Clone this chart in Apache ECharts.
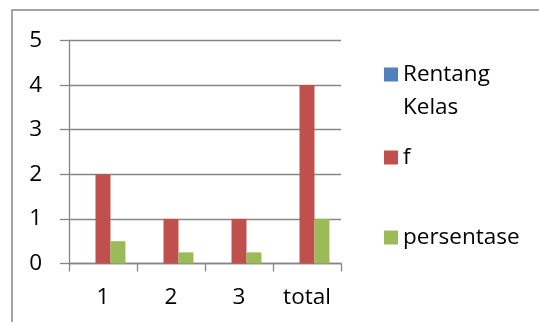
<!DOCTYPE html>
<html>
<head>
<meta charset="utf-8">
<script src="https://cdn.jsdelivr.net/npm/echarts@6/dist/echarts.min.js"></script>
<style>
  html, body { margin: 0; padding: 0; background: #fff; }
  #chart { width: 539px; height: 322px; }
</style>
</head>
<body>
<div id="chart"></div>
<script>
// Category labels along the x axis
const categories = ['1', '2', '3', 'total'];
// Series names and values
const seriesNames = ['Rentang Kelas', 'f', 'persentase'];
const rentangKelas = [0, 0, 0, 0];
const frekuensi = [2, 1, 1, 4];
const persentase = [0.5, 0.25, 0.25, 1];
// Value axis range
const yMin = 0, yMax = 5, yStep = 1;

const colors = ['#4F81BD', '#C0504D', '#9BBB59'];
const FONT = 'Open Sans';
const FONT_SIZE = 22.5;
const AXIS_GRAY = '#868686';

const chart = echarts.init(document.getElementById('chart'));

const legendText = {
  fontFamily: FONT, fontSize: FONT_SIZE, color: '#000'
};

// One legend block per entry so each can sit at its own height
function legendFor(name, top, extra) {
  return Object.assign({
    data: [name],
    left: 384, top: top,
    padding: 0,
    itemWidth: 14, itemHeight: 14,
    icon: 'rect', selectedMode: false,
    textStyle: Object.assign({}, legendText, { lineHeight: 14 })
  }, extra || {});
}

chart.setOption({
  animation: false,
  color: colors,
  textStyle: { fontFamily: FONT },
  graphic: [{
    type: 'rect',
    shape: { x: 12, y: 10, width: 600, height: 400 },
    style: { fill: 'none', stroke: AXIS_GRAY, lineWidth: 1.5 },
    silent: true
  }],
  grid: { left: 69, right: 198, top: 40.5, bottom: 58.5, containLabel: false },
  legend: [
    // leading blank line keeps the icon level with "Rentang"
    legendFor(seriesNames[0], 25, {
      formatter: () => '\nRentang\nKelas',
      textStyle: Object.assign({}, legendText, { lineHeight: 33 })
    }),
    legendFor(seriesNames[1], 146),
    legendFor(seriesNames[2], 226)
  ],
  xAxis: {
    type: 'category',
    data: categories,
    axisLine: { lineStyle: { color: AXIS_GRAY, width: 1.3 } },
    axisTick: { show: true, length: 8, lineStyle: { color: AXIS_GRAY, width: 1.3 } },
    axisLabel: { color: '#000', fontSize: FONT_SIZE, fontFamily: FONT, margin: 23 }
  },
  yAxis: {
    type: 'value',
    min: yMin, max: yMax, interval: yStep,
    axisLine: { show: true, lineStyle: { color: AXIS_GRAY, width: 1.3 } },
    axisTick: { show: true, length: 9, lineStyle: { color: AXIS_GRAY, width: 1.3 } },
    splitLine: { show: true, lineStyle: { color: AXIS_GRAY, width: 1.3 } },
    axisLabel: { color: '#000', fontSize: FONT_SIZE, fontFamily: FONT, margin: 27 }
  },
  series: [
    { name: seriesNames[0], type: 'bar', data: rentangKelas, barGap: '0%', barCategoryGap: '34%' },
    { name: seriesNames[1], type: 'bar', data: frekuensi, barGap: '0%', barCategoryGap: '34%' },
    { name: seriesNames[2], type: 'bar', data: persentase, barGap: '0%', barCategoryGap: '34%' }
  ]
});
</script>
</body>
</html>
